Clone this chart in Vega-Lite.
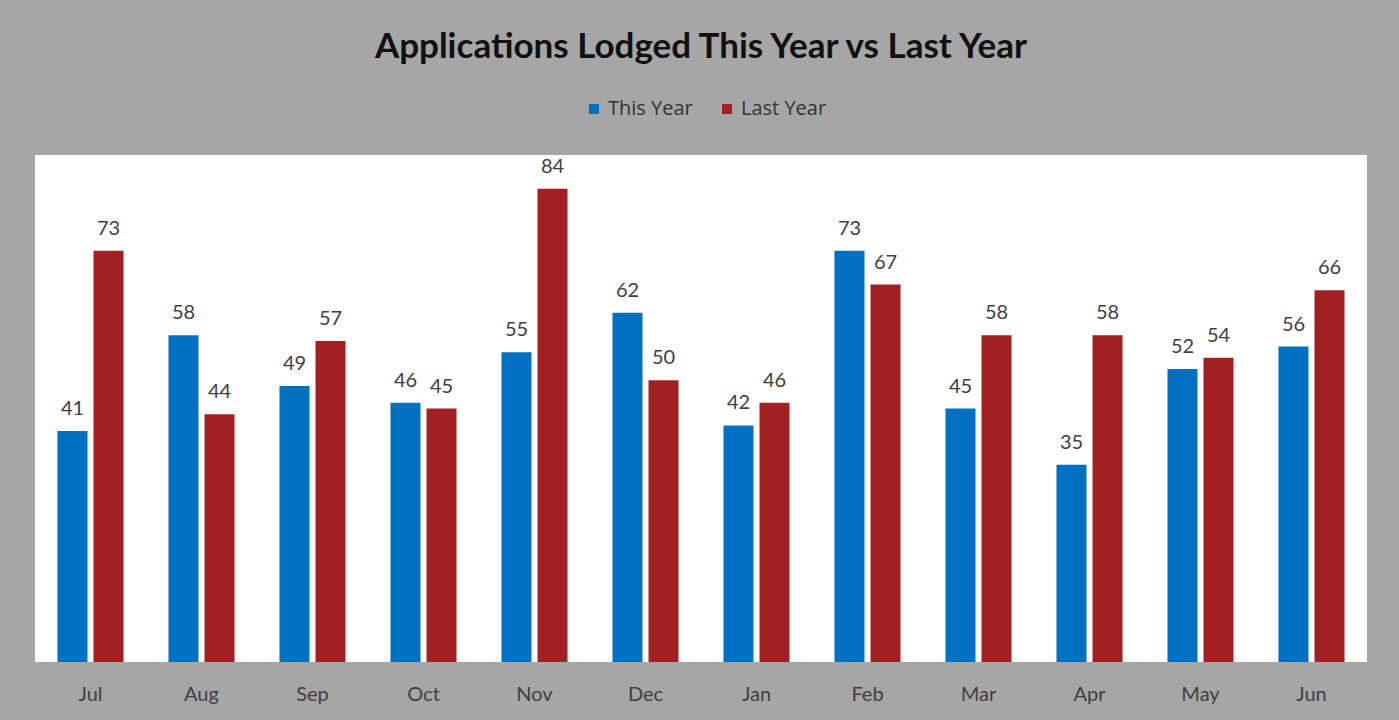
{
  "$schema": "https://vega.github.io/schema/vega-lite/v6.json",
  "autosize": {"type": "none"},
  "width": 1332,
  "height": 507,
  "padding": {"left": 35, "top": 155, "right": 32, "bottom": 58},
  "background": "#a6a6a6",
  "view": {"fill": "#ffffff", "stroke": null},
  "title": {
    "text": "Applications Lodged This Year vs Last Year",
    "fontSize": 35,
    "font": "Lato",
    "fontWeight": "bold",
    "color": "#111111",
    "anchor": "middle",
    "offset": 34
  },
  "data": {
    "values": [
      {"month": "Jul", "series": "This Year", "value": 41},
      {"month": "Jul", "series": "Last Year", "value": 73},
      {"month": "Aug", "series": "This Year", "value": 58},
      {"month": "Aug", "series": "Last Year", "value": 44},
      {"month": "Sep", "series": "This Year", "value": 49},
      {"month": "Sep", "series": "Last Year", "value": 57},
      {"month": "Oct", "series": "This Year", "value": 46},
      {"month": "Oct", "series": "Last Year", "value": 45},
      {"month": "Nov", "series": "This Year", "value": 55},
      {"month": "Nov", "series": "Last Year", "value": 84},
      {"month": "Dec", "series": "This Year", "value": 62},
      {"month": "Dec", "series": "Last Year", "value": 50},
      {"month": "Jan", "series": "This Year", "value": 42},
      {"month": "Jan", "series": "Last Year", "value": 46},
      {"month": "Feb", "series": "This Year", "value": 73},
      {"month": "Feb", "series": "Last Year", "value": 67},
      {"month": "Mar", "series": "This Year", "value": 45},
      {"month": "Mar", "series": "Last Year", "value": 58},
      {"month": "Apr", "series": "This Year", "value": 35},
      {"month": "Apr", "series": "Last Year", "value": 58},
      {"month": "May", "series": "This Year", "value": 52},
      {"month": "May", "series": "Last Year", "value": 54},
      {"month": "Jun", "series": "This Year", "value": 56},
      {"month": "Jun", "series": "Last Year", "value": 66}
    ]
  },
  "encoding": {
    "x": {
      "field": "month",
      "type": "nominal",
      "sort": ["Jul","Aug","Sep","Oct","Nov","Dec","Jan","Feb","Mar","Apr","May","Jun"],
      "scale": {"paddingInner": 0.405, "paddingOuter": 0.2025},
      "axis": {
        "title": null,
        "labelAngle": 0,
        "domain": false,
        "ticks": false,
        "labelFontSize": 20,
        "labelFont": "Lato",
        "labelColor": "#404040",
        "labelPadding": 22
      }
    },
    "xOffset": {
      "field": "series",
      "type": "nominal",
      "sort": ["This Year", "Last Year"],
      "scale": {"paddingInner": 0.167, "paddingOuter": 0}
    },
    "y": {
      "field": "value",
      "type": "quantitative",
      "scale": {"domain": [0, 90], "nice": false},
      "axis": null
    }
  },
  "layer": [
    {
      "mark": {"type": "bar"},
      "encoding": {
        "color": {
          "field": "series",
          "type": "nominal",
          "scale": {"domain": ["This Year", "Last Year"], "range": ["#0070c0", "#a21f22"]},
          "legend": {
            "title": null,
            "orient": "none",
            "direction": "horizontal",
            "legendX": 549,
            "legendY": -56,
            "symbolType": "square",
            "symbolSize": 100,
            "symbolStrokeWidth": 0,
            "symbolOpacity": 1,
            "labelFontSize": 20,
            "labelFont": "Open Sans",
            "labelColor": "#333333",
            "labelOffset": 4,
            "columnPadding": 24
          }
        }
      }
    },
    {
      "mark": {"type": "text", "baseline": "alphabetic", "dy": -16, "fontSize": 20, "font": "Lato", "color": "#404040"},
      "encoding": {
        "text": {"field": "value", "type": "quantitative"}
      }
    }
  ]
}
